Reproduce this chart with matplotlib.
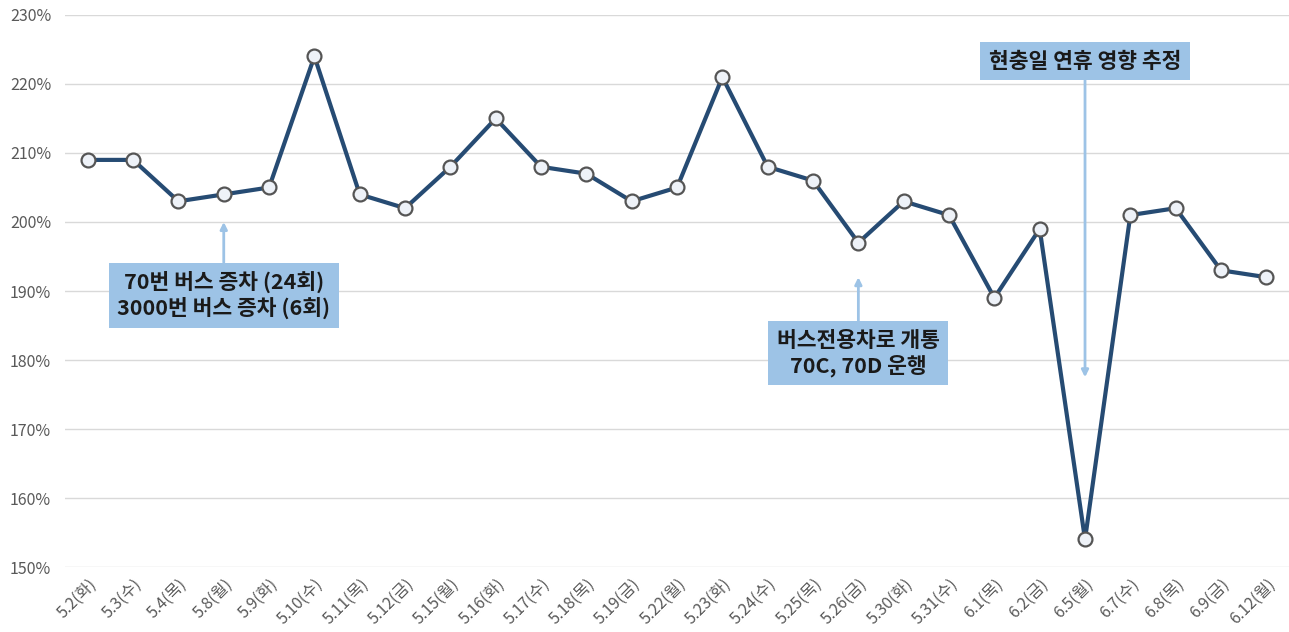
import matplotlib
matplotlib.use("Agg")
import matplotlib.pyplot as plt
from matplotlib.ticker import FuncFormatter, MultipleLocator

plt.rcParams['font.family'] = ['Noto Sans CJK KR', 'DejaVu Sans']

dates = ["5.2(화)", "5.3(수)", "5.4(목)", "5.8(월)", "5.9(화)", "5.10(수)", "5.11(목)",
         "5.12(금)", "5.15(월)", "5.16(화)", "5.17(수)", "5.18(목)", "5.19(금)", "5.22(월)",
         "5.23(화)", "5.24(수)", "5.25(목)", "5.26(금)", "5.30(화)", "5.31(수)", "6.1(목)",
         "6.2(금)", "6.5(월)", "6.7(수)", "6.8(목)", "6.9(금)", "6.12(월)"]
values = [209, 209, 203, 204, 205, 224, 204, 202, 208, 215, 208, 207, 203, 205,
          221, 208, 206, 197, 203, 201, 189, 199, 154, 201, 202, 193, 192]

notes = [
    ("70번 버스 증차 (24회)\n3000번 버스 증차 (6회)", 3, 200.0, 3, 189.4),
    ("버스전용차로 개통\n70C, 70D 운행", 17, 192.0, 17, 181.0),
    ("현충일 연휴 영향 추정", 22, 177.5, 22, 223.3),
]

fig = plt.figure(figsize=(12.89, 6.32), dpi=100)
ax = fig.add_axes([0.0505, 0.1028, 0.9495, 0.8735])

x = list(range(len(dates)))
ax.plot(x, values, color="#264B73", lw=3.0, marker="o", ms=10,
        mfc="#EEF2F8", mec="#555555", mew=1.6, zorder=3)

ax.set_xlim(-0.5, len(dates) - 0.5)
ax.set_ylim(150, 230)
ax.yaxis.set_major_locator(MultipleLocator(10))
ax.yaxis.set_major_formatter(FuncFormatter(lambda v, p: f"{v:.0f}%"))
ax.grid(axis="y", color="#D9D9D9", lw=1)
ax.set_axisbelow(True)
for s in ax.spines.values():
    s.set_visible(False)
ax.tick_params(axis="both", length=0, colors="#595959", labelsize=11.5)
ax.tick_params(axis="y", pad=10)
ax.tick_params(axis="x", pad=6)
ax.set_xticks(x)
ax.set_xticklabels(dates, rotation=45, ha="right", rotation_mode="anchor")

for text, xh, yh, xt, yt in notes:
    ax.annotate(text, xy=(xh, yh), xytext=(xt, yt), ha="center", va="center",
                fontsize=15.5, fontweight="bold", color="#1A1A1A", linespacing=1.2,
                bbox=dict(boxstyle="square,pad=0.4", fc="#9DC3E6", ec="none"),
                arrowprops=dict(arrowstyle="-|>", color="#9DC3E6", lw=2,
                                mutation_scale=10, shrinkA=0, shrinkB=0),
                zorder=4)

fig.savefig("out.png", dpi=100)
